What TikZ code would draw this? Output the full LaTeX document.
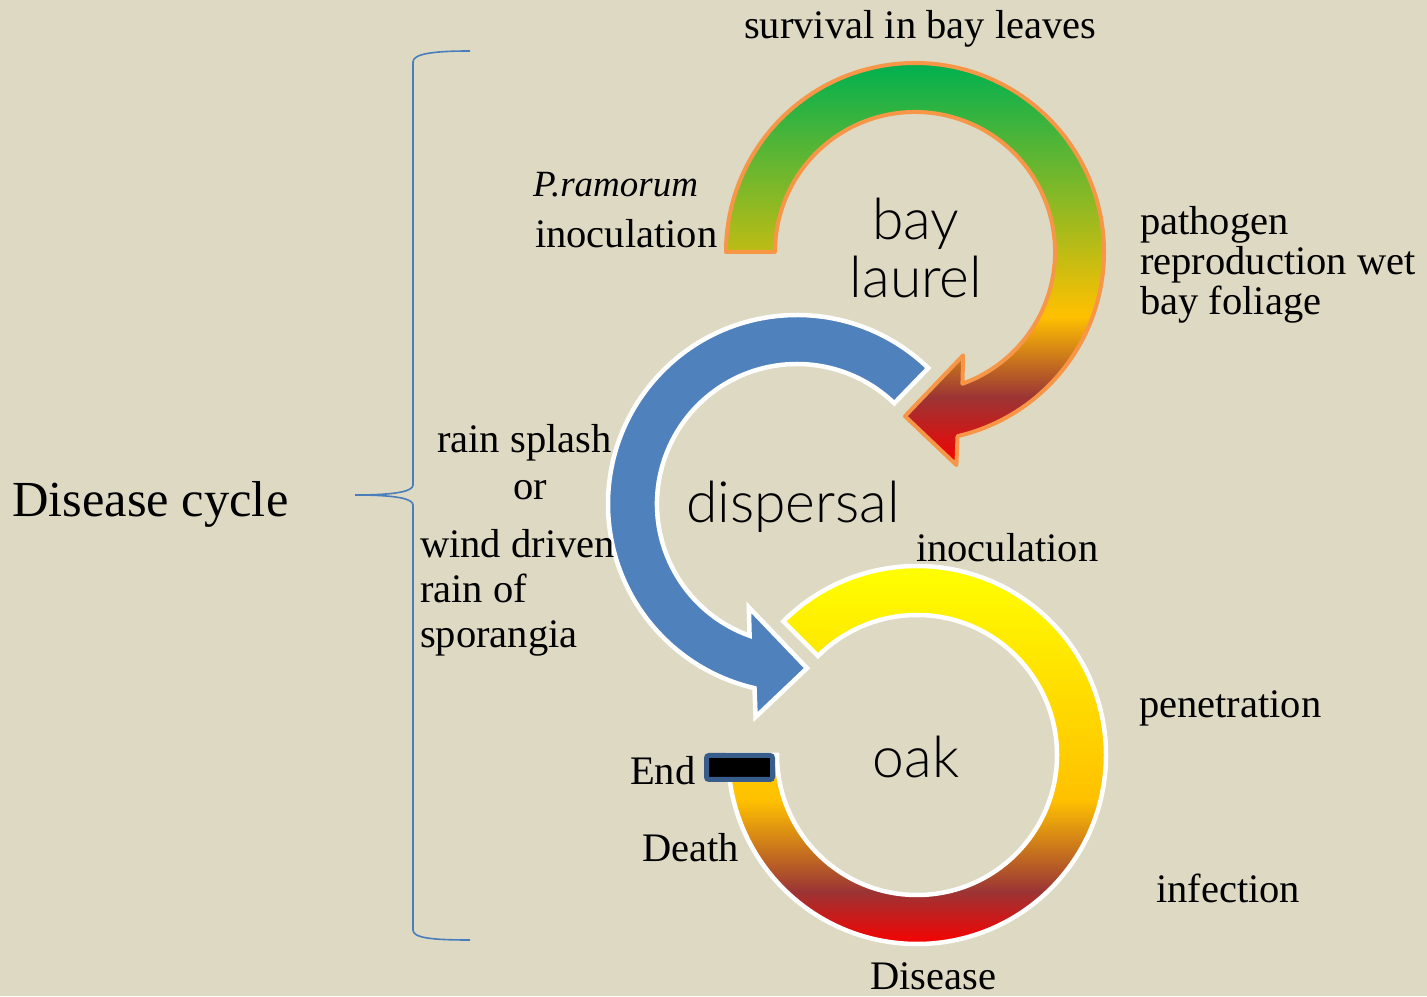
\documentclass[tikz,border=0pt]{standalone}
\usepackage{fontspec}
\setmainfont{Liberation Serif}
\newfontfamily\labelsans{Lato Light}

\definecolor{bgtan}{HTML}{DDD9C3}
\definecolor{leafgreen}{HTML}{00B050}
\definecolor{gold}{HTML}{FFC000}
\definecolor{rust}{HTML}{9B3535}
\definecolor{hotred}{HTML}{F80000}
\definecolor{sunyellow}{HTML}{FFFF00}
\definecolor{skyblue}{HTML}{4F81BD}
\definecolor{rimorange}{HTML}{F79646}
\definecolor{navyrim}{HTML}{385D8A}
\definecolor{bracecol}{HTML}{4A7EBB}

% top-to-bottom colour ramps (the path box spans 25bp..75bp)
\pgfdeclareverticalshading{bayramp}{100bp}{color(0bp)=(hotred); color(25bp)=(hotred);
  color(33.5bp)=(rust); color(43.5bp)=(gold); color(75bp)=(leafgreen); color(100bp)=(leafgreen)}
\pgfdeclareverticalshading{oakramp}{100bp}{color(0bp)=(hotred); color(25bp)=(hotred);
  color(32bp)=(rust); color(44bp)=(gold); color(75bp)=(sunyellow); color(100bp)=(sunyellow)}

\begin{document}
\begin{tikzpicture}[x=1pt,y=1pt,
  serif/.style={inner sep=0pt,font=\fontsize{40.5}{45}\selectfont},
  bigserif/.style={inner sep=0pt,font=\fontsize{50.5}{56}\selectfont},
  latin/.style={inner sep=0pt,font=\fontsize{37}{40}\selectfont\itshape},
  hostlabel/.style={inner sep=0pt,font=\fontsize{57}{60}\selectfont\labelsans},
  whiterim/.style={draw=white,line width=4.5pt,line join=miter},
  bayrim/.style={draw=rimorange,line width=4pt,line join=round},
  endbox/.style={fill=black,draw=navyrim,line width=5pt,rounded corners=2.5pt},
  brace/.style={draw=bracecol,line width=1.6pt}]

\useasboundingbox (0,0) rectangle (1427,996);
\fill[bgtan] (0,0) rectangle (1427,996);

% ring and arrow outlines, each around its own centre
\def\oakring{(135:189pt) arc[start angle=135,end angle=-180,radius=189pt]
  -- (-180:140pt) arc[start angle=-180,end angle=135,radius=140pt] -- cycle}
\def\dispersalarrow{(46:189pt) arc[start angle=46,end angle=257,radius=189pt]
  -- (259:217pt) -- (273.5:164.5pt) -- (245:114pt) -- (250.2:140pt)
  arc[start angle=250.2,end angle=46,radius=140pt] -- cycle}
\def\bayarrow{(180:189pt) arc[start angle=180,end angle=-77,radius=189pt]
  -- (-79:217pt) -- (-93.5:164.5pt) -- (-65:114pt) -- (-70.2:140pt)
  arc[start angle=-70.2,end angle=180,radius=140pt] -- cycle}

% oak ring
\begin{scope}[shift={(917,241)}]
  \begin{scope}
    \clip \oakring;
    \shade[shading=oakramp] (-200,-189) rectangle (200,189);
  \end{scope}
  \path[whiterim] \oakring;
\end{scope}

% dispersal arrow
\begin{scope}[shift={(797,492)}]
  \path[fill=skyblue,whiterim] \dispersalarrow;
\end{scope}

% bay laurel arrow
\begin{scope}[shift={(915,744)}]
  \begin{scope}
    \clip \bayarrow;
    \shade[shading=bayramp] (-200,-213) rectangle (200,189);
  \end{scope}
  \path[bayrim] \bayarrow;
\end{scope}

% end marker
\draw[endbox] (706.5,240.5) rectangle (772.5,216.5);

% brace
\coordinate (bracetop) at (470,945);
\coordinate (bracetip) at (355,501);
\coordinate (bracebot) at (470,56);
\draw[brace] (bracetop) .. controls (432,945) and (413,942) .. (413,934)
  -- (413,511) .. controls (413,505) and (398,501) .. (bracetip)
  .. controls (398,501) and (413,497) .. (413,491)
  -- (413,66) .. controls (413,58) and (432,56) .. (bracebot);

% host labels
\node[hostlabel,anchor=base] (bay) at (916,756) {bay};
\node[hostlabel,anchor=base] (laurel) at (916,698) {laurel};
\node[hostlabel,anchor=base] (dispersal) at (793,473) {dispersal};
\node[hostlabel,anchor=base] (oak) at (916,218) {oak};

% stage labels
\node[bigserif,anchor=base west] (cycle) at (12,479) {Disease cycle};
\node[serif,anchor=base west] (survival) at (744,957) {survival in bay leaves};
\node[latin,anchor=base west] (species) at (533,799) {P.ramorum};
\node[serif,anchor=base west] (inocbay) at (535,748) {inoculation};
\node[serif,anchor=base west] (repro1) at (1140,761) {pathogen};
\node[serif,anchor=base west] (repro2) at (1140,721) {reproduction wet};
\node[serif,anchor=base west] (repro3) at (1140,681) {bay foliage};
\node[serif,anchor=base west] (splash) at (437,543) {rain splash};
\node[serif,anchor=base] (or) at (530,496) {or};
\node[serif,anchor=base west] (wind1) at (420,438) {wind driven};
\node[serif,anchor=base west] (wind2) at (420,393) {rain of};
\node[serif,anchor=base west] (wind3) at (420,348) {sporangia};
\node[serif,anchor=base west] (inocoak) at (916,434) {inoculation};
\node[serif,anchor=base west] (penetration) at (1139,278) {penetration};
\node[serif,anchor=base west] (infection) at (1156,93) {infection};
\node[serif,anchor=base west] (disease) at (870,7) {Disease};
\node[serif,anchor=base west] (endlabel) at (630,211) {End};
\node[serif,anchor=base west] (death) at (642,134) {Death};
\end{tikzpicture}
\end{document}
